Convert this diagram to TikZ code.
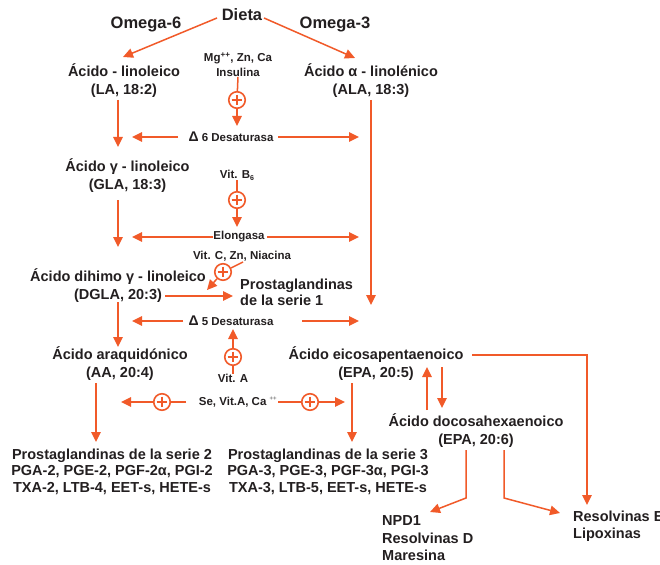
\documentclass[tikz,border=0pt]{standalone}
\usepackage{fontspec}
\setmainfont{Liberation Sans}
\usetikzlibrary{arrows.meta}
\definecolor{org}{HTML}{F15A29}
\definecolor{txt}{HTML}{231F20}
\newcommand{\mydelta}{{\fontsize{14}{14}\selectfont Δ}}
\begin{document}
\begin{tikzpicture}[x=1pt,y=-1pt,
  lbl/.style={font=\fontsize{14.5}{18}\selectfont\bfseries, text=txt, align=center, inner sep=0},
  lbl3/.style={font=\fontsize{14.5}{16.5}\selectfont\bfseries, text=txt, align=center, inner sep=0},
  lbll/.style={font=\fontsize{14.5}{17.5}\selectfont\bfseries, text=txt, align=left, inner sep=0, anchor=west},
  big/.style={font=\fontsize{16.5}{19}\selectfont\bfseries, text=txt, inner sep=0},
  sml/.style={font=\fontsize{11.5}{15}\selectfont\bfseries, text=txt, align=center, inner sep=0},
  conn/.style={draw=org, line width=1.5pt},
  arr/.style={conn, -{Triangle[length=10pt,width=9.5pt]}},
  plusc/.style={circle, draw=org, line width=1.6pt, minimum size=16.5pt, inner sep=0,
    path picture={\draw[org, line width=1.8pt]
      ([xshift=2.8pt]path picture bounding box.west) -- ([xshift=-2.8pt]path picture bounding box.east)
      ([yshift=-2.8pt]path picture bounding box.north) -- ([yshift=2.8pt]path picture bounding box.south);}}
]
\fill[white] (0,0) rectangle (660,564);
\useasboundingbox (0,0) rectangle (660,564);

% titles
\node[big] (dieta) at (242,15) {Dieta};
\node[big] (om6) at (146,24) {Omega-6};
\node[big] (om3) at (335,24) {Omega-3};

% main labels
\node[lbl] (la) at (124,81) {Ácido - linoleico\\(LA, 18:2)};
\node[lbl] (ala) at (371,81) {Ácido α - linolénico\\(ALA, 18:3)};
\node[lbl] (gla) at (127.5,176) {Ácido γ - linoleico\\(GLA, 18:3)};
\node[lbl] (dgla) at (118,286) {Ácido dihimo γ - linoleico\\(DGLA, 20:3)};
\node[lbll] (ps1) at (240,292) {Prostaglandinas\\[-1.5pt]de la serie 1};
\node[lbl] (aa) at (120,363.5) {Ácido araquidónico\\(AA, 20:4)};
\node[lbl] (epa) at (376,364) {Ácido eicosapentaenoico\\(EPA, 20:5)};
\node[lbl] (dha) at (476,431) {Ácido docosahexaenoico\\(EPA, 20:6)};
\node[lbl3] (ps2) at (112,471.5) {Prostaglandinas de la serie 2\\PGA-2, PGE-2, PGF-2α, PGI-2\\TXA-2, LTB-4, EET-s, HETE-s};
\node[lbl3] (ps3) at (328,471.5) {Prostaglandinas de la serie 3\\PGA-3, PGE-3, PGF-3α, PGI-3\\TXA-3, LTB-5, EET-s, HETE-s};
\node[lbll] (npd) at (382,538.5) {NPD1\\Resolvinas D\\Maresina};
\node[lbll] (rese) at (573,526) {Resolvinas E\\[-1pt]Lipoxinas};

% small labels
\node[sml] (mg) at (238,64.5) {Mg\textsuperscript{++}, Zn, Ca\\Insulina};
\node[sml] (d6) at (231,137) {\mydelta\ 6 Desaturasa};
\node[sml] (vb6) at (237,175) {Vit. B\raisebox{-0.35ex}{\fontsize{7}{7}\selectfont 6}};
\node[sml] (elo) at (239,237) {Elongasa};
\node[sml] (vc) at (242,256) {Vit. C, Zn, Niacina};
\node[sml] (d5) at (231,321) {\mydelta\ 5 Desaturasa};
\node[sml] (va) at (233,378) {Vit. A};
\node[sml] (se) at (238,402) {Se, Vit.A, Ca \textsuperscript{\fontsize{6}{7}\selectfont\color{gray}++}};

% plus circles
\node[plusc] (p1) at (237,100) {};
\node[plusc] (p2) at (237,200) {};
\node[plusc] (p3) at (223,272) {};
\node[plusc] (p4) at (233,357) {};
\node[plusc] (p5) at (162,402) {};
\node[plusc] (p6) at (310,402) {};

% coordinates
\coordinate (dl) at (217,18);  \coordinate (lat) at (123,57);
\coordinate (dr) at (264,18);  \coordinate (alat) at (355,58);
\coordinate (p1e) at (237,126);
\coordinate (las) at (118,100); \coordinate (lae) at (118,147);
\coordinate (alas) at (371,100); \coordinate (alae) at (371,305);
\coordinate (d6l) at (178,137); \coordinate (d6le) at (132,137);
\coordinate (d6r) at (278,137); \coordinate (d6re) at (359,137);
\coordinate (glas) at (118,200); \coordinate (glae) at (118,247);
\coordinate (p2e) at (237,227);
\coordinate (elol) at (213,237); \coordinate (elole) at (132,237);
\coordinate (elor) at (267,237); \coordinate (elore) at (359,237);
\coordinate (vcs) at (243,262); \coordinate (p3e) at (207,290);
\coordinate (dglar) at (165,296); \coordinate (dglare) at (233,296);
\coordinate (dglas) at (118,302); \coordinate (dglae) at (118,347);
\coordinate (d5l) at (183,321); \coordinate (d5le) at (132,321);
\coordinate (d5r) at (302,321); \coordinate (d5re) at (359,321);
\coordinate (p4e) at (233,329);
\coordinate (aas) at (96,383); \coordinate (aae) at (96,442);
\coordinate (sel) at (186,402); \coordinate (p5e) at (121,402);
\coordinate (ser) at (278,402); \coordinate (p6e) at (345,402);
\coordinate (epas) at (352,383); \coordinate (epae) at (352,442);
\coordinate (epar) at (472,355); \coordinate (resetop) at (587,505);
\coordinate (upS) at (427,410); \coordinate (upE) at (427,367);
\coordinate (dnS) at (442,367); \coordinate (dnE) at (442,408);
\coordinate (dhal) at (466,450); \coordinate (dhalb) at (466,498); \coordinate (npdt) at (430,512);
\coordinate (dhar) at (504,450); \coordinate (dharb) at (504,498); \coordinate (reset) at (560,513);

% connectors
\draw[arr] (dl) -- (lat);
\draw[arr] (dr) -- (alat);
\draw[conn] (mg.south) -- (p1);
\draw[arr] (p1) -- (p1e);
\draw[arr] (las) -- (lae);
\draw[arr] (alas) -- (alae);
\draw[arr] (d6l) -- (d6le);
\draw[arr] (d6r) -- (d6re);
\draw[arr] (glas) -- (glae);
\draw[conn] (vb6.south) -- (p2);
\draw[arr] (p2) -- (p2e);
\draw[arr] (elol) -- (elole);
\draw[arr] (elor) -- (elore);
\draw[conn] (vcs) -- (p3);
\draw[arr] (p3) -- (p3e);
\draw[arr] (dglar) -- (dglare);
\draw[arr] (dglas) -- (dglae);
\draw[arr] (d5l) -- (d5le);
\draw[arr] (d5r) -- (d5re);
\draw[conn] (va.north) -- (p4);
\draw[arr] (p4) -- (p4e);
\draw[arr] (aas) -- (aae);
\draw[conn] (sel) -- (p5);
\draw[arr] (p5) -- (p5e);
\draw[conn] (ser) -- (p6);
\draw[arr] (p6) -- (p6e);
\draw[arr] (epas) -- (epae);
\draw[arr] (epar) -| (resetop);
\draw[arr] (upS) -- (upE);
\draw[arr] (dnS) -- (dnE);
\draw[arr] (dhal) -- (dhalb) -- (npdt);
\draw[arr] (dhar) -- (dharb) -- (reset);
\end{tikzpicture}
\end{document}
